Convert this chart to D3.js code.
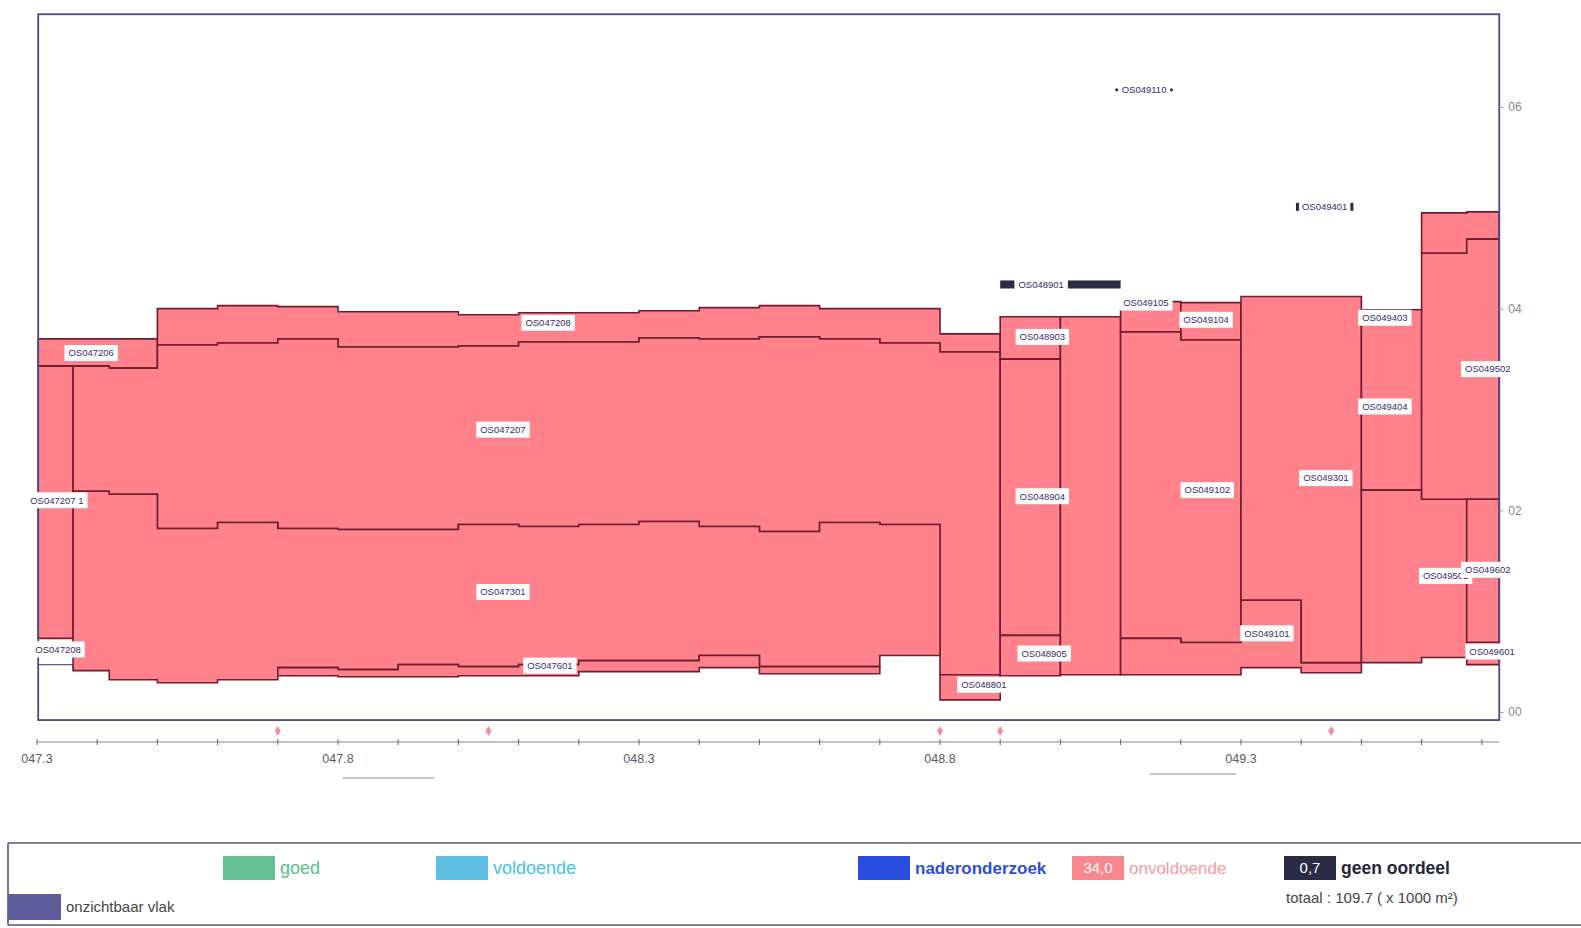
<!DOCTYPE html>
<html><head><meta charset="utf-8">
<script src="https://cdn.jsdelivr.net/npm/d3@7"></script>
<style>
body{margin:0;background:#fff;}
text{font-family:"Liberation Sans",Arial,sans-serif;}
</style>
</head><body>
<svg id="c" width="1581" height="928"></svg>
<script>
// ---------------- DATA ----------------
const xTickValues = [47.3, 47.8, 48.3, 48.8, 49.3];
const xTickLabels = ["047.3", "047.8", "048.3", "048.8", "049.3"];
const yTickValues = [0, 2, 4, 6];
const yTickLabels = ["00", "02", "04", "06"];
const xExtent = [47.302, 49.729];
const yExtent = [-0.08, 6.92];

// pavement sections: hectometer breaks (km), lower and upper edge per interval
const sections = [
  {id:"OS047206", x:[47.302,47.42,47.5], hi:[3.70,3.70], lo:[3.43,3.41]},
  {id:"OS047207 1", x:[47.302,47.36], hi:[3.43], lo:[0.73]},
  {id:"OS047208", x:[47.5,47.6,47.7,47.8,47.9,48.0,48.1,48.2,48.3,48.4,48.5,48.6,48.7,48.8,48.9],
    hi:[4.00,4.03,4.02,3.97,3.97,3.94,3.96,3.96,3.98,4.01,4.03,4.00,4.00,3.75],
    lo:[3.64,3.66,3.70,3.62,3.62,3.63,3.67,3.67,3.71,3.70,3.72,3.70,3.66,3.57]},
  {id:"OS047207", x:[47.36,47.42,47.5,47.6,47.7,47.8,47.9,48.0,48.1,48.2,48.3,48.4,48.5,48.6,48.7,48.8,48.9],
    hi:[3.43,3.41,3.64,3.66,3.70,3.62,3.62,3.63,3.67,3.67,3.71,3.70,3.72,3.70,3.66,3.57],
    lo:[2.19,2.16,1.82,1.88,1.82,1.81,1.81,1.86,1.84,1.86,1.89,1.84,1.79,1.88,1.86,0.37]},
  {id:"OS047301", x:[47.36,47.42,47.5,47.6,47.7,47.8,47.9,48.0,48.1,48.2,48.3,48.4,48.5,48.6,48.7,48.8],
    hi:[2.19,2.16,1.82,1.88,1.82,1.81,1.81,1.86,1.84,1.86,1.89,1.84,1.79,1.88,1.86],
    lo:[0.41,0.32,0.29,0.32,0.44,0.42,0.47,0.45,0.47,0.51,0.51,0.56,0.45,0.45,0.56]},
  {id:"OS047601", x:[47.7,47.8,47.9,48.0,48.1,48.2,48.3,48.4,48.5,48.6,48.7],
    hi:[0.44,0.42,0.47,0.45,0.47,0.51,0.51,0.56,0.45,0.45],
    lo:[0.36,0.35,0.35,0.36,0.36,0.40,0.40,0.44,0.38,0.38]},
  {id:"OS048801", x:[48.8,48.9], hi:[0.37], lo:[0.12]},
  {id:"OS048903", x:[48.9,49.0], hi:[3.92], lo:[3.50]},
  {id:"OS048904", x:[48.9,49.0], hi:[3.50], lo:[0.76]},
  {id:"OS048905", x:[48.9,49.0], hi:[0.76], lo:[0.36]},
  {id:"", x:[49.0,49.1], hi:[3.92], lo:[0.37]},
  {id:"OS049105", x:[49.1,49.2], hi:[4.07], lo:[3.77]},
  {id:"OS049104", x:[49.2,49.3], hi:[4.06], lo:[3.69]},
  {id:"OS049102", x:[49.1,49.2,49.3], hi:[3.77,3.69], lo:[0.73,0.69]},
  {id:"OS049101", x:[49.1,49.2,49.3,49.4,49.5], hi:[0.73,0.69,1.11,0.49], lo:[0.37,0.37,0.44,0.39]},
  {id:"OS049301", x:[49.3,49.4,49.5], hi:[4.12,4.12], lo:[1.11,0.49]},
  {id:"OS049404", x:[49.5,49.6], hi:[3.99], lo:[2.20]},
  {id:"OS049501", x:[49.5,49.6,49.675], hi:[2.20,2.11], lo:[0.49,0.54]},
  {id:"", x:[49.6,49.675,49.729], hi:[4.95,4.96], lo:[4.55,4.69]},
  {id:"OS049502", x:[49.6,49.675,49.729], hi:[4.55,4.69], lo:[2.11,2.11]},
  {id:"OS049602", x:[49.675,49.729], hi:[2.11], lo:[0.69]},
  {id:"OS049601", x:[49.675,49.729], hi:[0.69], lo:[0.47]}
];
// section without judgement ("geen oordeel")
const noJudgement = [{id:"OS048901", x:[48.9,49.1], hi:[4.28], lo:[4.20]}];

// section labels (km, lateral position)
const labelNames = ["OS047206","OS047208","OS047207","OS047207 1","OS047301","OS047208","OS047601",
  "OS048801","OS048903","OS048904","OS048905","OS048901","OS049110","OS049105","OS049104",
  "OS049102","OS049301","OS049101","OS049401","OS049403","OS049404","OS049502","OS049501",
  "OS049602","OS049601"];
const labelKm = [47.39,48.149,48.074,47.333,48.074,47.335,48.152,
  48.873,48.97,48.97,48.973,48.968,49.139,49.142,49.242,
  49.244,49.441,49.343,49.439,49.539,49.539,49.71,49.64,
  49.71,49.717];
const labelPos = [3.56,3.86,2.80,2.10,1.19,0.62,0.46,
  0.27,3.72,2.14,0.58,4.24,6.17,4.06,3.89,
  2.20,2.32,0.78,5.01,3.91,3.03,3.40,1.35,
  1.41,0.60];
const labelMarks = ["","","","","","","",
  "","","","","","dot","","",
  "","","","square","","","","",
  "",""];

// inspection markers along the road
const markerKm = [47.7, 48.05, 48.8, 48.9, 49.45];

// legend
const legendNames = ["goed","voldoende","naderonderzoek","onvoldoende","geen oordeel","onzichtbaar vlak"];
const legendValues = ["","","","34,0","0,7",""];
const legendColors = ["#62c291","#5dbde0","#2a4ee0","#f8878f","#2b2b45","#5d5d9c"];
const legendTextColors = ["#59c08c","#44c3e4","#2c4fd4","#f79aa1","#26263a","#444"];
const totalText = "totaal : 109.7 ( x 1000 m\u00b2)";

// ---------------- CHART ----------------
const svg = d3.select("#c");
const x = d3.scaleLinear().domain([47.3, 49.3]).range([37, 1241]);
const y = d3.scaleLinear().domain([0, 6]).range([712, 107]);

const RED = "#fe818b", EDGE = "#6e1d30";

const area = d3.area()
  .x(d => x(d.x)).y0(d => y(d.lo)).y1(d => y(d.hi))
  .curve(d3.curveStepAfter);

function toPts(s) {
  const n = s.hi.length;
  return s.x.map((xv, i) => ({x: xv, lo: s.lo[Math.min(i, n-1)], hi: s.hi[Math.min(i, n-1)]}));
}

// frame
const fx0 = x(xExtent[0]), fx1 = x(xExtent[1]), fy0 = y(yExtent[1]), fy1 = y(yExtent[0]);

// small outlined unfilled piece at bottom left
svg.append("path")
  .attr("d", `M${x(47.302)},${y(0.47)}H${x(47.36)}V${y(0.43)}H${x(47.38)}`)
  .attr("fill","none").attr("stroke","#5b5b95").attr("stroke-width",1.2);

svg.append("g").selectAll("path").data(sections).join("path")
  .attr("d", d => area(toPts(d)))
  .attr("fill", RED)
  .attr("stroke", EDGE).attr("stroke-width", 1.6)
  .attr("stroke-linejoin","miter");

svg.append("g").selectAll("rect").data(noJudgement).join("rect")
  .attr("x", d => x(d.x[0])).attr("width", d => x(d.x[1]) - x(d.x[0]))
  .attr("y", d => y(d.hi[0])).attr("height", d => y(d.lo[0]) - y(d.hi[0]))
  .attr("fill", legendColors[4]);

svg.append("rect").attr("x", fx0).attr("y", fy0).attr("width", fx1 - fx0).attr("height", fy1 - fy0)
  .attr("fill","none").attr("stroke","#4a4a82").attr("stroke-width",1.8);

// labels
const lg = svg.append("g");
labelNames.forEach((name, i) => {
  const g = lg.append("g").attr("transform", `translate(${x(labelKm[i])},${y(labelPos[i])})`);
  const t = g.append("text").text(name)
    .attr("text-anchor","middle").attr("dy","0.35em")
    .attr("font-size", 9.5).attr("fill","#3a2c68");
  const w = t.node().getComputedTextLength();
  if (labelMarks[i] === "") {
    g.insert("rect","text").attr("x", -w/2 - 4).attr("y", -8).attr("width", w + 8).attr("height", 16)
      .attr("fill","#fff");
  } else if (labelMarks[i] === "dot") {
    [-w/2 - 5, w/2 + 5].forEach(px => g.append("circle").attr("cx", px).attr("cy", 0).attr("r", 1.6).attr("fill","#3a2c68"));
  } else if (labelMarks[i] === "square") {
    [-w/2 - 6, w/2 + 3].forEach(px => g.append("rect").attr("x", px).attr("y", -4).attr("width", 3).attr("height", 8).attr("fill","#2b2b45"));
  }
});

// right axis
const yAxis = d3.axisRight(y).tickValues(yTickValues).tickSize(4)
  .tickFormat((d, i) => yTickLabels[i]);
const ya = svg.append("g").attr("transform", `translate(${fx1},0)`).call(yAxis);
ya.select(".domain").remove();
ya.selectAll("line").attr("stroke","#999");
ya.selectAll("text").attr("font-size", 12).attr("fill","#8a8a8a").attr("x", 9);

// bottom km axis
const axisY = 742;
const minorTicks = d3.range(47.3, 49.75, 0.1);
const xa = svg.append("g").attr("transform", `translate(0,${axisY})`);
xa.append("line").attr("x1", x(47.3)).attr("x2", fx1).attr("stroke","#777").attr("stroke-width",0.9);
xa.selectAll("line.t").data(minorTicks).join("line").attr("class","t")
  .attr("x1", d => x(d)).attr("x2", d => x(d)).attr("y1", -3).attr("y2", 3)
  .attr("stroke","#666");
xa.selectAll("text").data(xTickValues).join("text")
  .attr("x", d => x(d)).attr("y", 21).attr("text-anchor","middle")
  .attr("font-size", 12.5).attr("fill","#5a5a6a")
  .text((d, i) => xTickLabels[i]);

// markers
svg.append("g").selectAll("path").data(markerKm).join("path")
  .attr("d", d3.symbol(d3.symbolDiamond, 30))
  .attr("transform", d => `translate(${x(d)},${axisY - 11})`)
  .attr("fill","#f58aa0");

// faint rules under axis labels
svg.append("line").attr("x1",343).attr("x2",434).attr("y1",778).attr("y2",778).attr("stroke","#888").attr("stroke-width",1);
svg.append("line").attr("x1",1150).attr("x2",1236).attr("y1",774).attr("y2",774).attr("stroke","#888").attr("stroke-width",1);

// ---------------- LEGEND ----------------
const L = svg.append("g");
L.append("line").attr("x1",8).attr("x2",1581).attr("y1",843).attr("y2",843).attr("stroke","#55557a").attr("stroke-width",1.6);
L.append("line").attr("x1",8).attr("x2",1581).attr("y1",925).attr("y2",925).attr("stroke","#55557a").attr("stroke-width",1.6);
L.append("line").attr("x1",8).attr("x2",8).attr("y1",843).attr("y2",925).attr("stroke","#55557a").attr("stroke-width",1.6);

const legX = [223, 436, 858, 1072, 1284, 8];
const legY = [856, 856, 856, 856, 856, 894];
const legSize = [18, 18, 17, 17, 17.5, 15];
const legWeight = ["normal","normal","bold","normal","bold","normal"];
legendNames.forEach((name, i) => {
  const sw = i === 5 ? 53 : 52, sh = i === 5 ? 26 : 24;
  L.append("rect").attr("x", legX[i]).attr("y", legY[i]).attr("width", sw).attr("height", sh)
    .attr("fill", legendColors[i]);
  if (legendValues[i]) {
    L.append("text").attr("x", legX[i] + sw/2).attr("y", legY[i] + sh/2).attr("dy","0.36em")
      .attr("text-anchor","middle").attr("font-size", 15).attr("fill","#fff").text(legendValues[i]);
  }
  L.append("text").attr("x", legX[i] + sw + 5).attr("y", legY[i] + sh/2).attr("dy","0.36em")
    .attr("font-size", legSize[i]).attr("font-weight", legWeight[i])
    .attr("fill", legendTextColors[i]).text(name);
});
L.append("text").attr("x", 1286).attr("y", 898).attr("dy","0.36em")
  .attr("font-size", 15).attr("fill","#444").text(totalText);
</script>
</body></html>
